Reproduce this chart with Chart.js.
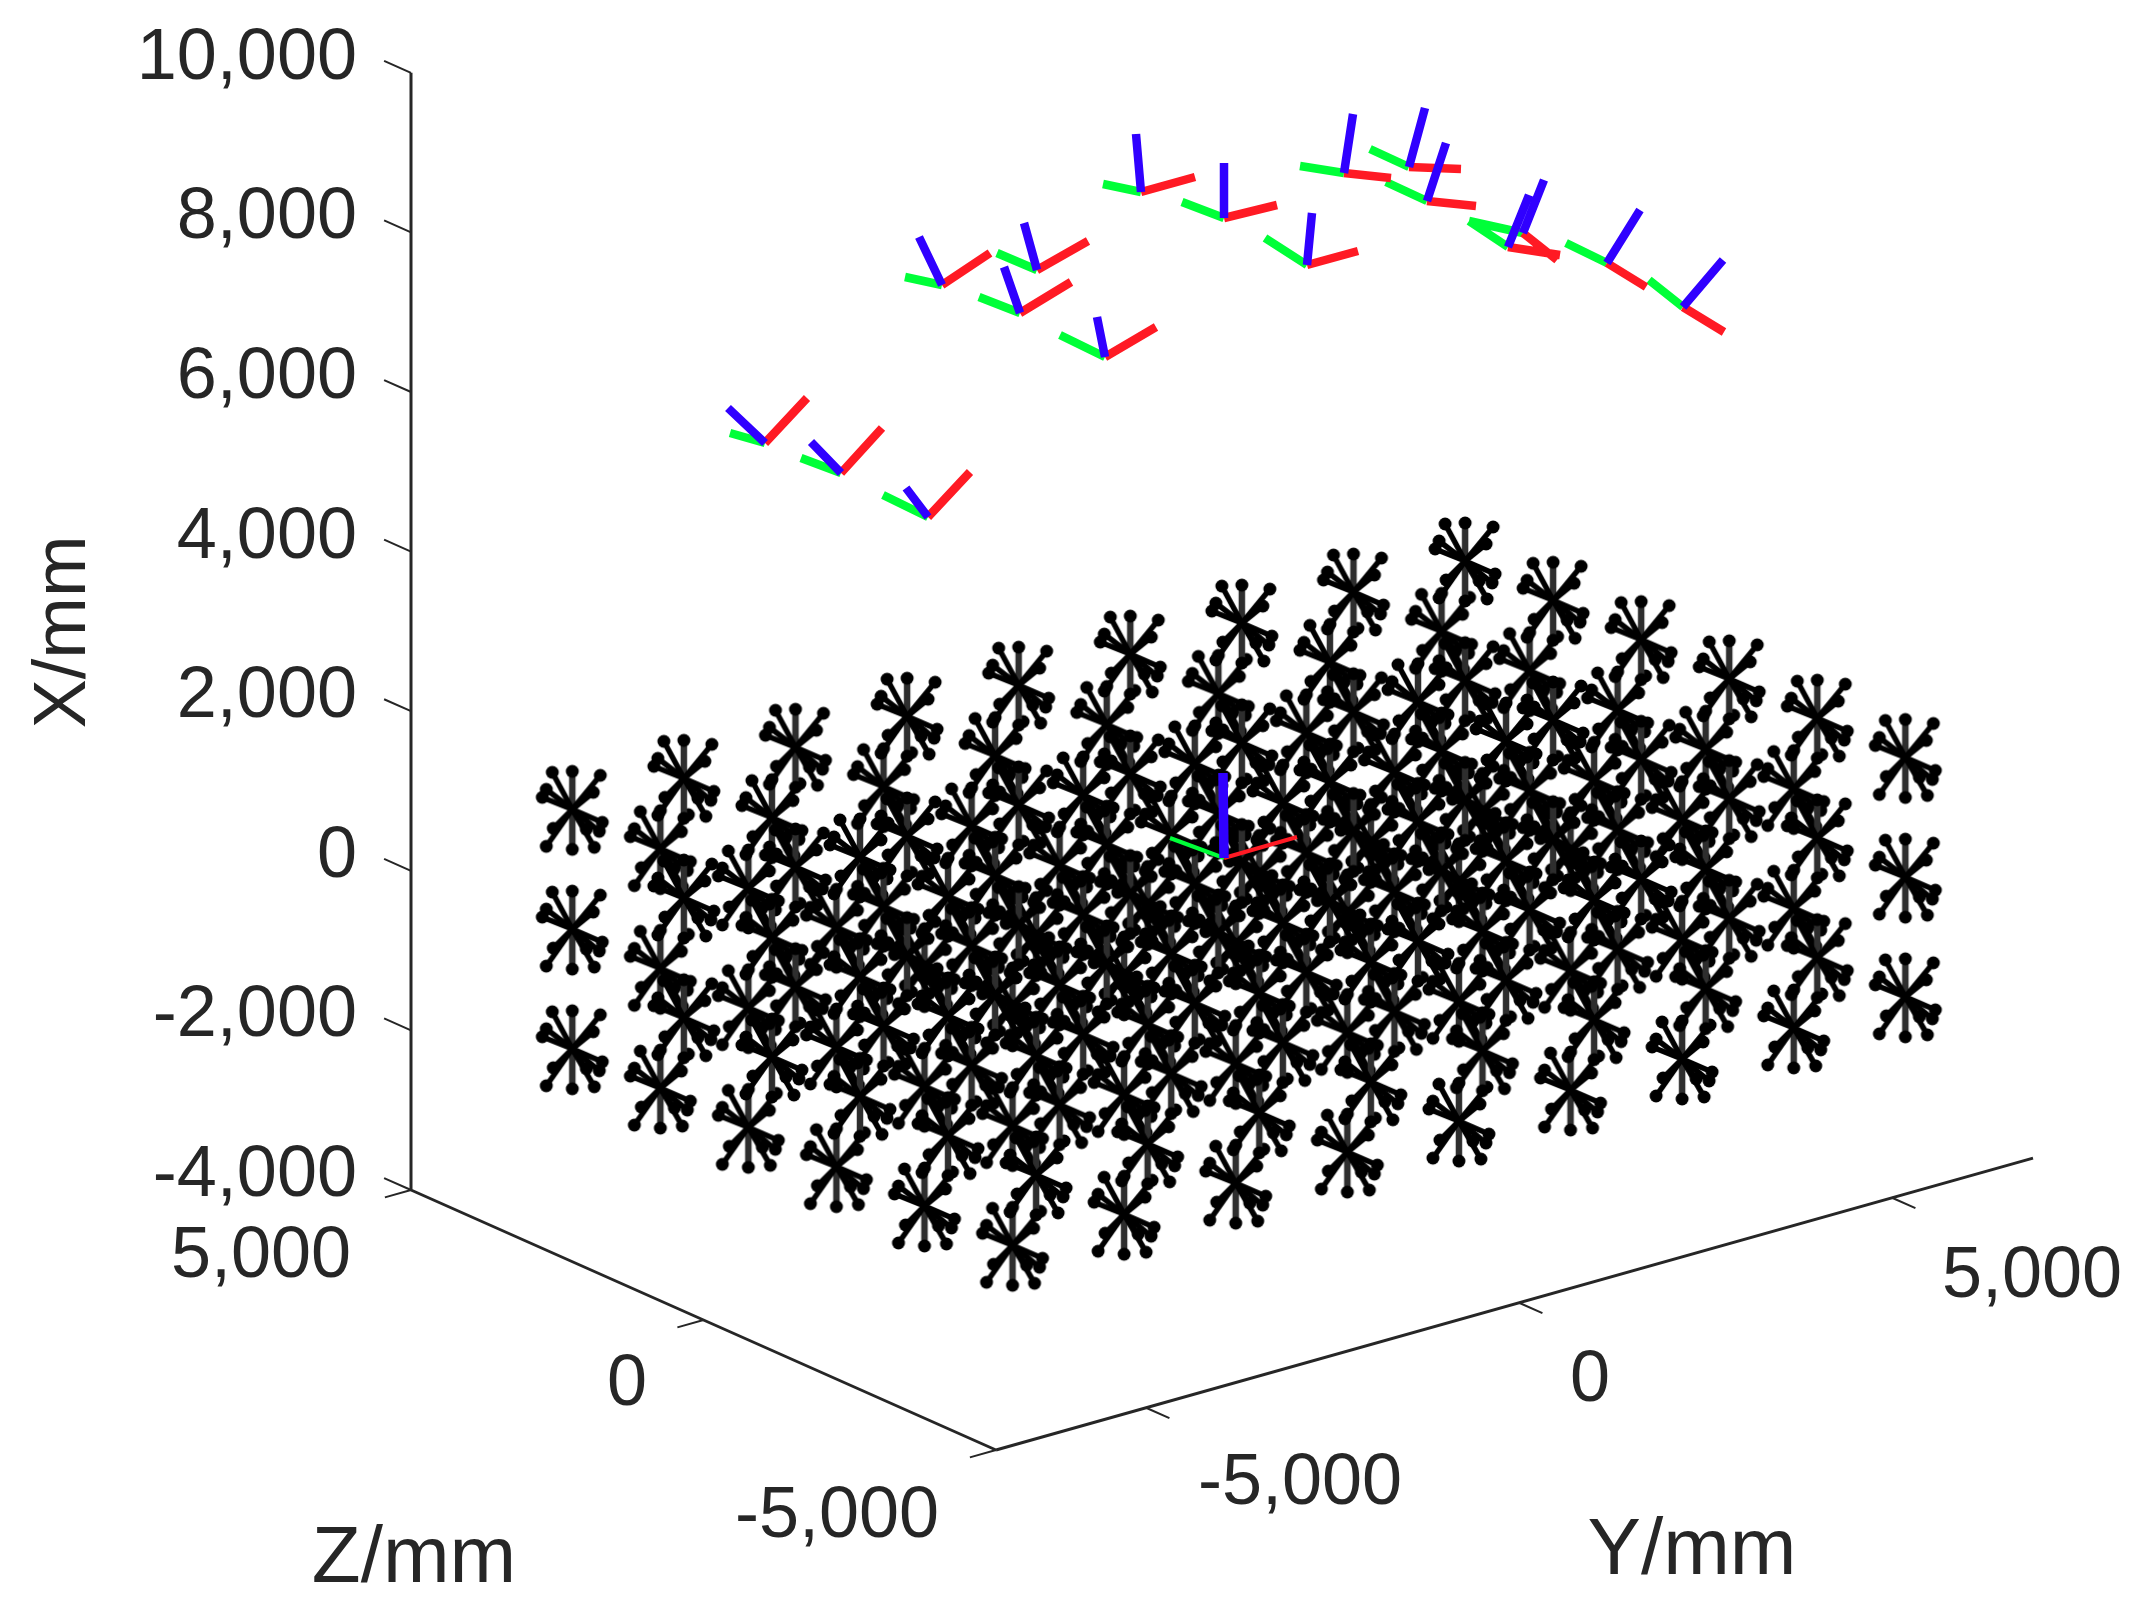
<!DOCTYPE html>
<html>
<head>
<meta charset="utf-8">
<title>Camera poses and calibration targets</title>
<script src="https://cdn.jsdelivr.net/npm/chart.js@4"></script>
<style>
  html, body { margin: 0; padding: 0; background: #ffffff; }
  canvas { display: block; }
</style>
</head>
<body>
<canvas id="poseChart" width="2148" height="1609"></canvas>
<script>
// target grid, in mm
const gridY = [-6000, -4500, -3000, -1500, 0, 1500, 3000, 4500, 6000];
const gridZ = [3500, 2000, 500, -1000, -2500, -4000];
const gridX = [1000, -500, -2000];

// axis ticks, in mm
const xTicks = [-4000, -2000, 0, 2000, 4000, 6000, 8000, 10000];
const yTicks = [-5000, 0, 5000];
const zTicks = [5000, 0, -5000];
const yRange = [-7011, 6890];
const zRange = [5000, -5000];
const xRange = [-4000, 10000];

// camera frames (horizontal, vertical)
const frameOrigins = [
  [765, 443], [841, 473], [928, 517], [942, 285], [1037, 270], [1020, 313],
  [1105, 357], [1141, 192], [1224, 218], [1307, 265], [1344, 173], [1409, 167],
  [1427, 201], [1508, 247], [1523, 233], [1607, 263], [1683, 307]
];
const frameRedEnds = [
  [807, 398], [882, 428], [970, 472], [990, 253], [1088, 241], [1071, 282],
  [1156, 327], [1195, 177], [1277, 205], [1358, 251], [1391, 178], [1461, 169],
  [1476, 206], [1560, 255], [1557, 260], [1646, 287], [1724, 332]
];
const frameGreenEnds = [
  [730, 433], [801, 458], [883, 495], [905, 277], [997, 253], [979, 297],
  [1060, 335], [1103, 184], [1182, 202], [1265, 238], [1300, 166], [1370, 149],
  [1386, 182], [1469, 221], [1469, 221], [1566, 243], [1649, 280]
];
const frameBlueEnds = [
  [728, 408], [811, 442], [906, 488], [919, 237], [1024, 223], [1004, 267],
  [1097, 317], [1136, 134], [1224, 163], [1312, 213], [1353, 114], [1425, 108],
  [1446, 143], [1529, 195], [1544, 180], [1640, 210], [1723, 260]
];

// world frame at the origin, it sits among the targets
const worldOrigin = [1224, 858];
const worldRedEnd = [1297, 837];
const worldGreenEnd = [1170, 838];
const worldBlueEnd = [1223, 773];

// text placed on the sloped axes
const sideLabels = [
  { text: '5,000', u: 261, v: 1257, size: 72 },
  { text: '0', u: 627, v: 1385, size: 72 },
  { text: '-5,000', u: 837, v: 1517, size: 72 },
  { text: '-5,000', u: 1300, v: 1484, size: 72 },
  { text: '0', u: 1590, v: 1381, size: 72 },
  { text: '5,000', u: 2032, v: 1277, size: 72 },
  { text: 'Z/mm', u: 414, v: 1560, size: 80 },
  { text: 'Y/mm', u: 1692, v: 1552, size: 80 },
  { text: 'X/mm', u: 65, v: 632, size: 74, rotate: -Math.PI / 2 }
];

const palette = {
  text: '#262626',
  axis: '#262626',
  star: '#000000',
  spoke: '#2e2e2e',
  red: '#ff1a24',
  green: '#00ff38',
  blue: '#3000ff'
};

document.addEventListener('DOMContentLoaded', () => {
  // orthographic views of the plot box: one, one off the corner targets
  const makeView = (u0, v0, zu, zv, yu, yv) => (y, z, x) => ({
    x: u0 + (5000 - z) * zu + (y + 7011) * yu,
    y: v0 + (5000 - z) * zv - (y + 7011) * yv - (x + 4000) * 0.0798
  });
  const project = makeView(411, 1190, 0.0585, 0.026, 0.0746, 0.021);
  const projectStar = makeView(409, 1190, 0.0587, 0.0262, 0.0744, 0.0207);

  const gap = { x: null, y: null };
  const segments = (pairs) => pairs.flatMap(([a, b]) => [a, b, gap]);
  const toPoint = ([x, y]) => ({ x, y });
  const framePairs = (ends) => ends.map((end, i) => [toPoint(frameOrigins[i]), toPoint(end)]);
  const worldPair = (end) => [[toPoint(worldOrigin), toPoint(end)]];

  const starPoints = [];
  gridX.forEach((x) => gridY.forEach((y) => gridZ.forEach((z) => starPoints.push(projectStar(y, z, x)))));

  // marker used for every target: spokes with a dot on each end
  const starMarker = document.createElement('canvas');
  starMarker.width = 100;
  starMarker.height = 100;
  const m = starMarker.getContext('2d');
  m.translate(50, 50);
  m.strokeStyle = palette.spoke;
  m.lineWidth = 6.5;
  m.beginPath();
  m.moveTo(0, -38);
  m.lineTo(0, 40);
  m.stroke();
  m.strokeStyle = palette.star;
  m.fillStyle = palette.star;
  m.lineWidth = 5.5;
  [[0, -38], [0, 40], [28, -34], [21, -17], [-26, 37], [-19, 19], [-20, -37], [-26, -20], [-30, -12],
    [30, 13], [27, 22], [22, 38], [14, 20]].forEach(([dx, dy]) => {
    if (dx !== 0) {
      m.beginPath();
      m.moveTo(0, 0);
      m.lineTo(dx, dy);
      m.stroke();
    }
    m.beginPath();
    m.arc(dx, dy, 6.5, 0, Math.PI * 2);
    m.fill();
  });

  const lineSet = (data, color, width, order) => ({
    data,
    showLine: true,
    borderColor: color,
    borderWidth: width,
    pointRadius: 0,
    clip: false,
    order,
    yAxisID: 'py'
  });

  const axisPairs = [
    [project(yRange[0], zRange[0], xRange[0]), project(yRange[0], zRange[0], xRange[1])],
    [project(yRange[0], zRange[0], xRange[0]), project(yRange[0], zRange[1], xRange[0])],
    [project(yRange[0], zRange[1], xRange[0]), project(yRange[1], zRange[1], xRange[0])]
  ];
  const tickPairs = [
    ...xTicks.map((v) => [project(yRange[0], zRange[0], v), project(yRange[0], zRange[0] + 460, v)]),
    ...zTicks.map((v) => [project(yRange[0], v, xRange[0]), project(yRange[0] - 350, v, xRange[0])]),
    ...yTicks.map((v) => [project(v, zRange[1], xRange[0]), project(v, zRange[1] - 400, xRange[0])])
  ];

  const sideText = {
    id: 'sideText',
    afterDraw(chart) {
      const { ctx, scales } = chart;
      ctx.save();
      ctx.fillStyle = palette.text;
      ctx.textAlign = 'center';
      ctx.textBaseline = 'middle';
      sideLabels.forEach((label) => {
        ctx.save();
        ctx.translate(scales.x.getPixelForValue(label.u), scales.py.getPixelForValue(label.v));
        if (label.rotate) ctx.rotate(label.rotate);
        ctx.font = `${label.size}px "Liberation Sans"`;
        ctx.fillText(label.text, 0, 0);
        ctx.restore();
      });
      ctx.restore();
    }
  };

  new Chart(document.getElementById('poseChart'), {
    type: 'scatter',
    plugins: [sideText],
    data: {
      datasets: [
        lineSet(segments(framePairs(frameBlueEnds)), palette.blue, 8.5, 1),
        lineSet(segments(worldPair(worldBlueEnd)), palette.blue, 9.5, 1),
        lineSet(segments(framePairs(frameGreenEnds)), palette.green, 8.5, 3),
        lineSet(segments(framePairs(frameRedEnds)), palette.red, 8.5, 2),
        lineSet(segments(worldPair(worldGreenEnd)), palette.green, 4, 3),
        lineSet(segments(worldPair(worldRedEnd)), palette.red, 4, 3),
        {
          data: starPoints,
          pointStyle: starMarker,
          pointRadius: 40,
          clip: false,
          order: 4,
          yAxisID: 'py'
        },
        lineSet(segments(axisPairs), palette.axis, 3, 6),
        lineSet(segments(tickPairs), palette.axis, 2, 6)
      ]
    },
    options: {
      responsive: false,
      animation: false,
      layout: { padding: 0, autoPadding: false },
      plugins: {
        legend: { display: false },
        tooltip: { enabled: false }
      },
      scales: {
        x: { type: 'linear', display: false, min: 411, max: 2148 },
        py: { type: 'linear', display: false, min: 0, max: 1609, reverse: true },
        y: {
          type: 'linear',
          position: 'left',
          min: -9250,
          max: 10915,
          grid: { display: false, drawTicks: false },
          border: { display: false },
          afterBuildTicks: (scale) => { scale.ticks = xTicks.map((value) => ({ value })); },
          afterFit: (scale) => {
            scale.width = 411;
            scale.paddingTop = 0;
            scale.paddingBottom = 0;
          },
          ticks: {
            color: palette.text,
            autoSkip: false,
            padding: 54,
            labelOffset: -14,
            font: { family: '"Liberation Sans"', size: 72 },
            callback: (value) => value.toLocaleString('en-US')
          }
        }
      }
    }
  });
});
</script>
</body>
</html>
